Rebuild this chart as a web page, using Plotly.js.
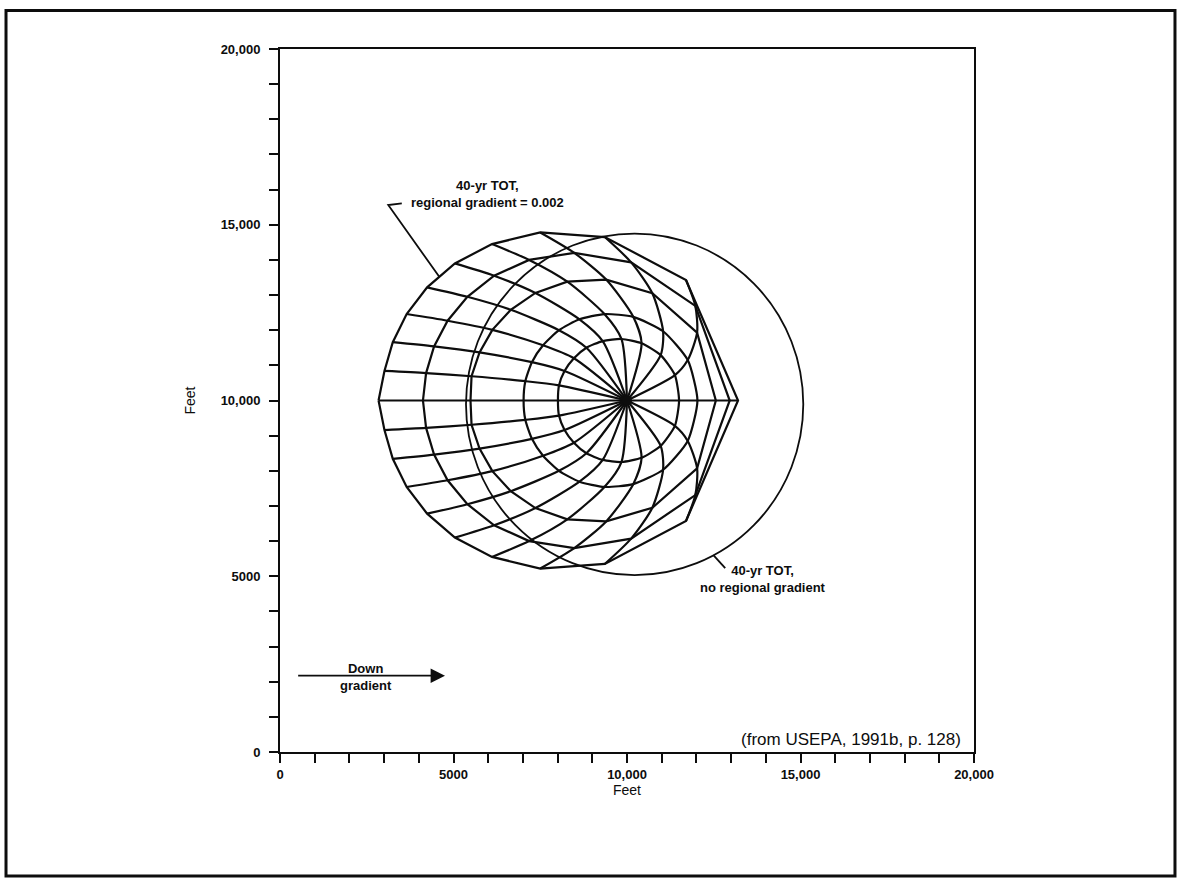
<!DOCTYPE html>
<html>
<head>
<meta charset="utf-8">
<script src="https://cdn.plot.ly/plotly-3.0.1.min.js"></script>
<style>
  html, body { margin: 0; padding: 0; background: #ffffff; }
  #chart { width: 1180px; height: 882px; }
</style>
</head>
<body>
<div id="chart"></div>
<script>
// ---- Data (feet) ----
// Pumping well
const wellX = 10000;
const wellY = 10000;

// Time-of-travel isochrones with regional gradient (nodes where pathlines cross them).
// Order: upgradient axis, over the top, downgradient axis, back along the bottom.
const iso5X  = [8010, 8040, 8200, 8470, 8830, 9300, 9840, 10420, 10970, 11380, 11500, 11380, 10970, 10420, 9840, 9300, 8830, 8470, 8200, 8040];
const iso5Y  = [10000, 10430, 10840, 11200, 11500, 11690, 11750, 11630, 11290, 10720, 10000, 9280, 8710, 8370, 8250, 8310, 8500, 8800, 9160, 9570];

const iso10X = [7020, 7070, 7260, 7580, 8040, 8630, 9350, 10180, 11040, 11750, 12030, 11750, 11040, 10180, 9350, 8630, 8040, 7580, 7260, 7070];
const iso10Y = [10000, 10550, 11090, 11570, 12000, 12310, 12460, 12380, 11970, 11150, 10000, 8850, 8030, 7620, 7540, 7690, 8000, 8430, 8910, 9450];

const iso20X = [5490, 5520, 5750, 6120, 6650, 7360, 8280, 9400, 10730, 12020, 12560, 12020, 10730, 9400, 8280, 7360, 6650, 6120, 5750, 5520];
const iso20Y = [10000, 10690, 11370, 12010, 12580, 13060, 13380, 13440, 13050, 11930, 10000, 8070, 6950, 6560, 6620, 6940, 7420, 7990, 8630, 9310];

const iso30X = [4120, 4210, 4440, 4830, 5400, 6170, 7180, 8480, 10120, 11970, 12960, 11970, 10120, 8480, 7180, 6170, 5400, 4830, 4440, 4210];
const iso30Y = [10000, 10780, 11540, 12270, 12950, 13550, 14000, 14200, 13930, 12690, 10000, 7310, 6070, 5800, 6000, 6450, 7050, 7730, 8460, 9220];

const iso40X = [2840, 3010, 3250, 3650, 4240, 5040, 6110, 7500, 9360, 11700, 13200, 11700, 9360, 7500, 6110, 5040, 4240, 3650, 3250, 3010];
const iso40Y = [10000, 10840, 11660, 12460, 13220, 13900, 14450, 14780, 14650, 13430, 10000, 6570, 5350, 5220, 5550, 6100, 6780, 7540, 8340, 9160];

// 40-yr TOT with no regional gradient (circle)
const circleCenterX = 10220;
const circleCenterY = 9890;
const circleRadius  = 4860;

// Axis ticks
const xTickVals = [0,1000,2000,3000,4000,5000,6000,7000,8000,9000,10000,11000,12000,13000,14000,15000,16000,17000,18000,19000,20000];
const xTickText = ['0','','','','','5000','','','','','10,000','','','','','15,000','','','','','20,000'];
const yTickVals = xTickVals;
const yTickText = xTickText;

// ---- Build traces ----
const INK = '#0d0d0d';
const FONT = 'Liberation Sans, Arial, Helvetica, sans-serif';
const isoSets = [
  {x: iso5X,  y: iso5Y,  name: '5-yr',  smooth: true},
  {x: iso10X, y: iso10Y, name: '10-yr', smooth: true},
  {x: iso20X, y: iso20Y, name: '20-yr', smooth: false},
  {x: iso30X, y: iso30Y, name: '30-yr', smooth: false},
  {x: iso40X, y: iso40Y, name: '40-yr', smooth: false}
];

const traces = [];
// pathlines: from the well through the same node of every isochrone
for (let j = 0; j < iso5X.length; j++) {
  traces.push({
    type: 'scatter', mode: 'lines', hoverinfo: 'skip', showlegend: false,
    x: [wellX].concat(isoSets.map(s => s.x[j])),
    y: [wellY].concat(isoSets.map(s => s.y[j])),
    line: {color: INK, width: 2.2, shape: 'spline', smoothing: 0.7}
  });
}
// isochrones (closed)
isoSets.forEach(s => {
  traces.push({
    type: 'scatter', mode: 'lines', name: s.name, hoverinfo: 'skip', showlegend: false,
    x: s.x.concat([s.x[0]]), y: s.y.concat([s.y[0]]),
    line: s.smooth ? {color: INK, width: 2.2, shape: 'spline', smoothing: 0.6}
                   : {color: INK, width: 2.2}
  });
});
// well
traces.push({
  type: 'scatter', mode: 'markers', hoverinfo: 'skip', showlegend: false,
  x: [wellX], y: [wellY], marker: {color: INK, size: 10}
});

const axisCommon = {
  range: [0, 20000], showgrid: false, zeroline: false,
  showline: true, linecolor: INK, linewidth: 2, mirror: true,
  ticks: 'outside', ticklen: 9, tickwidth: 2, tickcolor: INK,
  tickmode: 'array',
  tickfont: {family: FONT, size: 13, color: INK, weight: 'bold'},
  fixedrange: true
};

const layout = {
  width: 1180, height: 882,
  margin: {l: 280, r: 206, t: 49, b: 130, pad: 0},
  paper_bgcolor: '#ffffff', plot_bgcolor: '#ffffff',
  showlegend: false,
  font: {family: FONT, color: INK},
  xaxis: Object.assign({}, axisCommon, {
    tickvals: xTickVals, ticktext: xTickText, ticklabelstandoff: 0,
    title: {text: 'Feet', font: {family: FONT, size: 14, color: INK}, standoff: 4}
  }),
  yaxis: Object.assign({}, axisCommon, {
    tickvals: yTickVals, ticktext: yTickText, ticklabelstandoff: 6,
    title: {text: 'Feet', font: {family: FONT, size: 14, color: INK}, standoff: 22}
  }),
  shapes: [
    {type: 'circle', xref: 'x', yref: 'y',
     x0: circleCenterX - circleRadius, x1: circleCenterX + circleRadius,
     y0: circleCenterY - circleRadius, y1: circleCenterY + circleRadius,
     line: {color: INK, width: 1.8}},
    {type: 'path', xref: 'x', yref: 'y', path: 'M3510,15610 L3120,15560 L4590,13520',
     line: {color: INK, width: 1.8}},
    {type: 'line', xref: 'x', yref: 'y', x0: 12490, y0: 5600, x1: 12830, y1: 5230,
     line: {color: INK, width: 1.8}},
    {type: 'rect', xref: 'paper', yref: 'paper',
     x0: -0.3948, x1: 1.2896, y0: -0.1764, y1: 1.0548,
     line: {color: INK, width: 3}}
  ],
  annotations: [
    {x: 5966, y: 15875, xref: 'x', yref: 'y', showarrow: false, align: 'center',
     text: '40-yr TOT,<br>regional gradient = 0.002',
     font: {family: FONT, size: 13, color: INK, weight: 'bold'}},
    {x: 13920, y: 4922, xref: 'x', yref: 'y', showarrow: false, align: 'center',
     text: '40-yr TOT,<br>no regional gradient',
     font: {family: FONT, size: 13, color: INK, weight: 'bold'}},
    {x: 2479, y: 2134, xref: 'x', yref: 'y', showarrow: false, align: 'center',
     text: 'Down<br>gradient',
     font: {family: FONT, size: 13, color: INK, weight: 'bold'}},
    {x: 19684, y: 356, xref: 'x', yref: 'y', showarrow: false, xanchor: 'right',
     text: '(from USEPA, 1991b, p. 128)',
     font: {family: FONT, size: 17, color: INK}},
    {x: 4755, y: 2170, ax: 480, ay: 2170, xref: 'x', yref: 'y', axref: 'x', ayref: 'y',
     text: '', showarrow: true, arrowhead: 2, arrowsize: 1.6, arrowwidth: 1.8, arrowcolor: INK}
  ]
};

Plotly.newPlot('chart', traces, layout, {displayModeBar: false, staticPlot: true});
</script>
</body>
</html>
